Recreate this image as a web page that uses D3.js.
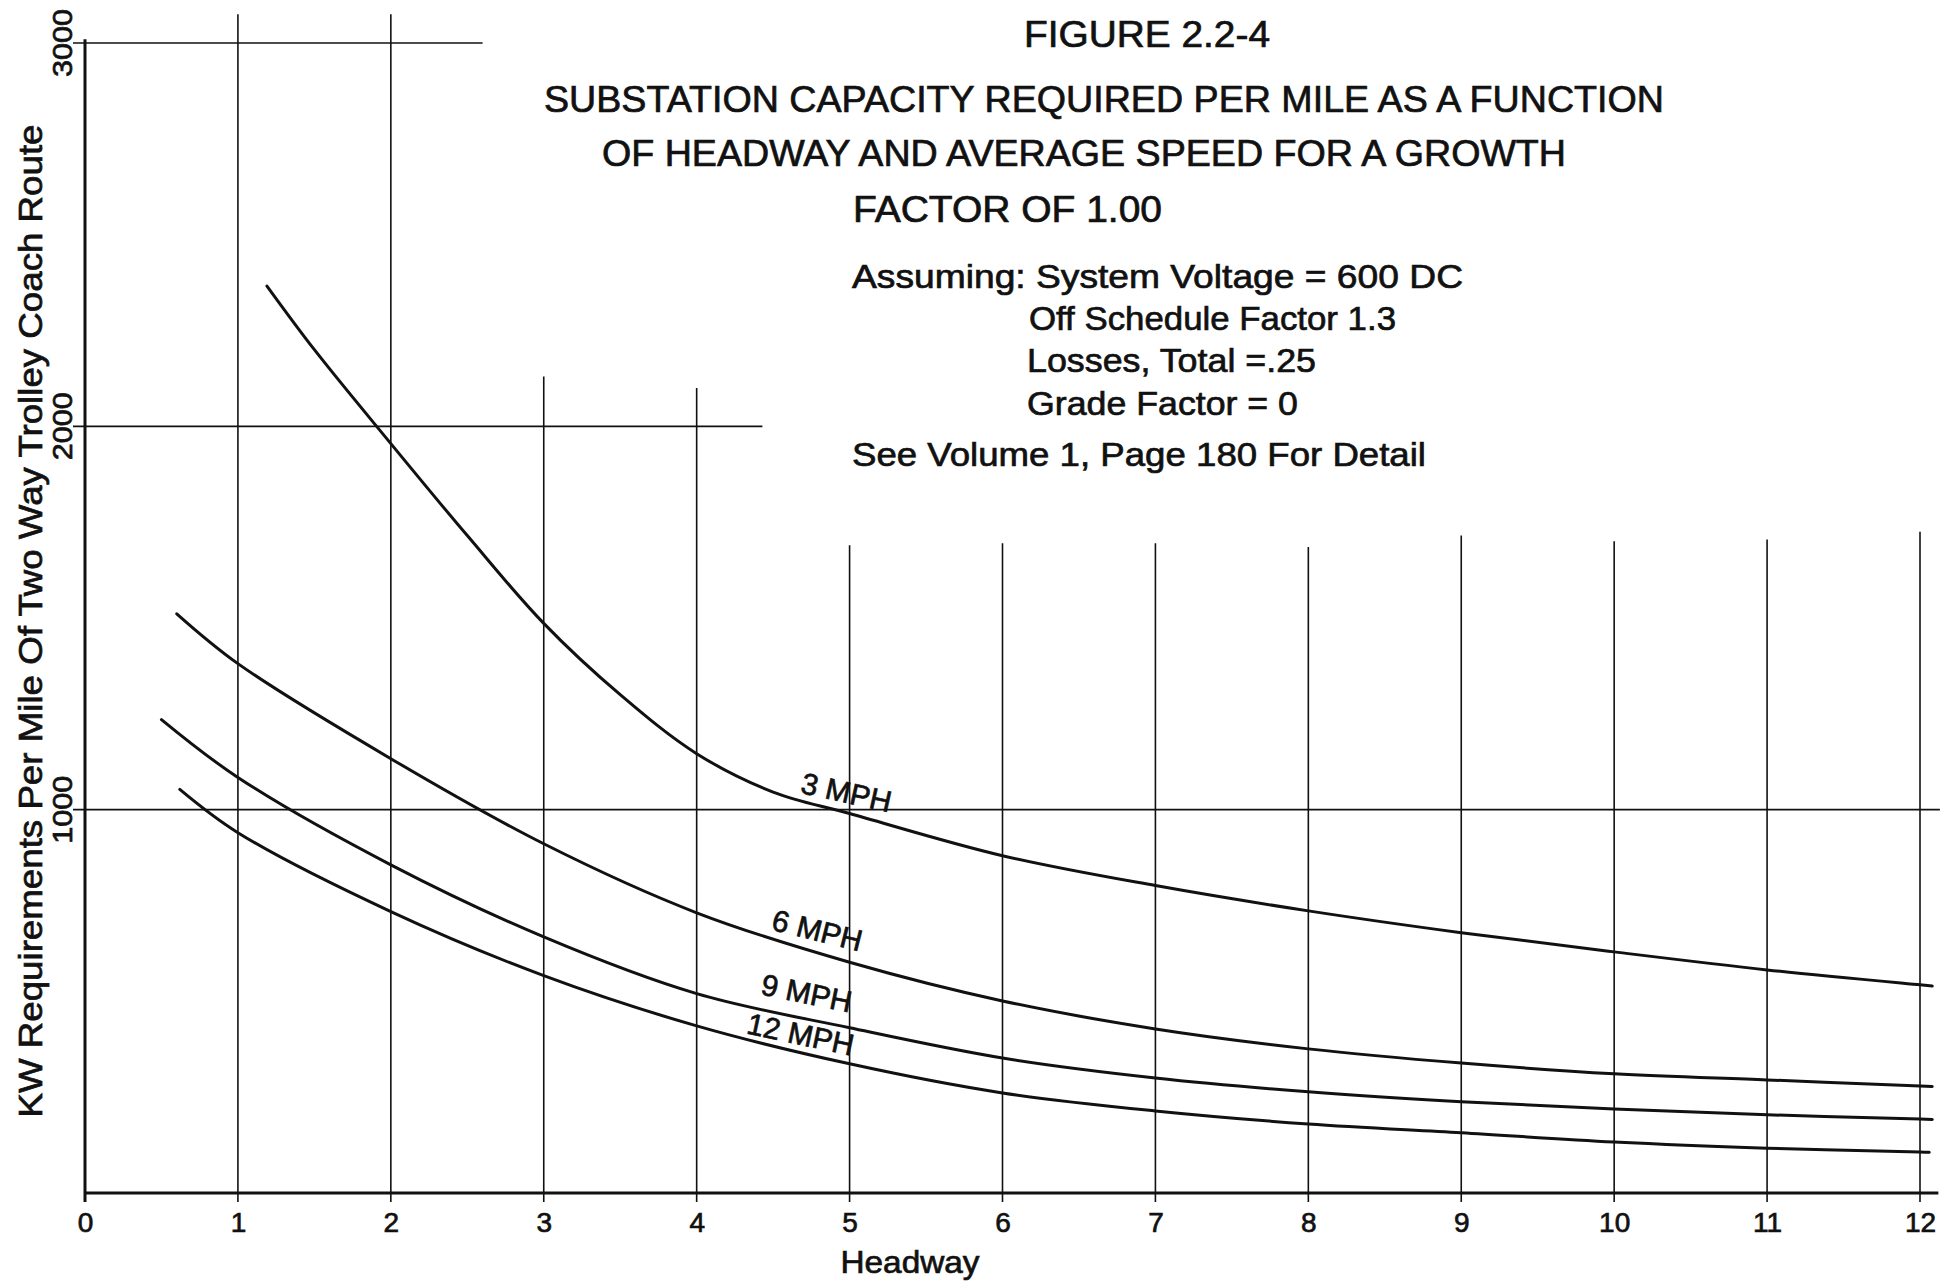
<!DOCTYPE html>
<html><head><meta charset="utf-8">
<script src="https://cdn.jsdelivr.net/npm/d3@7"></script>
<style>
body{margin:0;background:#fff}
svg{display:block;background:#fff}
text{font-family:"Liberation Sans",Arial,sans-serif;fill:#111;stroke:#111;stroke-width:0.7px}
</style>
</head><body>
<svg id="chart" width="1953" height="1284"></svg>
<script>
// ---------------- DATA ----------------
const xTicks = [0,1,2,3,4,5,6,7,8,9,10,11,12];
const xTickLabels = ["0","1","2","3","4","5","6","7","8","9","10","11","12"];
const yTicks = [1000,2000,3000];
const yTickLabels = ["1000","2000","3000"];

// how far up (KW) each hand-drawn vertical grid line reaches
const gridTop = [3010,3075,3075,2130,2100,1690,1695,1695,1685,1715,1700,1705,1725];
// how far right (headway) each horizontal rule reaches
const hRuleValues = [1000,2000,3000];
const hRuleEnd = [12.13,4.43,2.6];

const speeds = ["3 MPH","6 MPH","9 MPH","12 MPH"];

const headway3 = [1.19,1.5,2,2.5,3,3.5,4,4.5,5,6,7,8,9,10,11,12,12.08];
const kw3      = [2366,2200,1955,1715,1486,1300,1146,1046,990,880,802,736,679,629,582,543,540];

const headway6 = [0.6,1,2,3,4,5,6,7,8,9,10,11,12,12.08];
const kw6      = [1511,1381,1133,911,731,602,501,428,376,339,311,295,279,278];

const headway9 = [0.5,1,2,3,4,5,6,7,8,9,10,11,12,12.08];
const kw9      = [1235,1084,856,668,520,431,352,300,264,238,219,204,193,192];

const headway12 = [0.62,1,2,3,4,5,6,7,8,9,10,11,12,12.06];
const kw12      = [1053,940,734,567,436,337,261,214,180,157,133,117,107,106];

// curve label anchors (data units) and slant
const labelHeadway = [4.98,4.79,4.72,4.68];
const labelKW      = [1046,686,522,415];
const labelAngle   = [12.5,14,11.5,12];

const titleLines = [
  "FIGURE 2.2-4",
  "SUBSTATION CAPACITY REQUIRED PER MILE AS A FUNCTION",
  "OF HEADWAY AND AVERAGE SPEED FOR A GROWTH",
  "FACTOR OF 1.00"
];
const noteLines = [
  "Assuming: System Voltage = 600 DC",
  "Off Schedule Factor 1.3",
  "Losses, Total =.25",
  "Grade Factor = 0",
  "See Volume 1, Page 180 For Detail"
];
const xTitle = "Headway";
const yTitle = "KW Requirements Per Mile Of Two Way Trolley Coach Route";

// ---------------- DRAWING ----------------
const svg = d3.select("#chart");
const ink = "#111";
const x = d3.scaleLinear().domain([0,12]).range([85,1920]);
const y = d3.scaleLinear().domain([0,3000]).range([1193,43]);

const g = svg.append("g");

// vertical grid lines
g.selectAll("line.vg").data(xTicks.slice(1)).join("line")
  .attr("x1", d => x(d)).attr("x2", d => x(d))
  .attr("y1", y(0) + 9).attr("y2", d => y(gridTop[d]))
  .attr("stroke", ink).attr("stroke-width", 1.6);

// horizontal rules (with left tick stub)
g.selectAll("line.hg").data(hRuleValues).join("line")
  .attr("x1", x(0) - 12).attr("x2", (d,i) => x(hRuleEnd[i]))
  .attr("y1", d => y(d)).attr("y2", d => y(d))
  .attr("stroke", ink).attr("stroke-width", 1.6);

// axes lines
g.append("line").attr("x1", x(0)).attr("x2", x(12.12))
  .attr("y1", y(0)).attr("y2", y(0)).attr("stroke", ink).attr("stroke-width", 3);
g.append("line").attr("x1", x(0)).attr("x2", x(0))
  .attr("y1", y(0) + 9).attr("y2", y(gridTop[0])).attr("stroke", ink).attr("stroke-width", 3);

// x axis ticks & labels via d3 axis
const xAxis = d3.axisBottom(x).tickValues(xTicks)
  .tickFormat(d => xTickLabels[xTicks.indexOf(d)])
  .tickSize(0).tickPadding(19);
const xa = g.append("g").attr("transform", `translate(0,${y(0)})`).call(xAxis);
xa.select(".domain").remove();
xa.selectAll("text").attr("font-size", 28).attr("fill", ink)
  .style("font-family", '"Liberation Sans",Arial,sans-serif');

// y tick labels (rotated)
g.selectAll("text.yt").data(yTicks).join("text")
  .attr("transform", d => `translate(72,${y(d)}) rotate(-90)`)
  .attr("text-anchor", "middle")
  .attr("font-size", 27)
  .attr("textLength", 68).attr("lengthAdjust", "spacingAndGlyphs")
  .text((d,i) => yTickLabels[i]);

// curves
const series = [
  {hx: headway3, kw: kw3},
  {hx: headway6, kw: kw6},
  {hx: headway9, kw: kw9},
  {hx: headway12, kw: kw12}
];
const line = d3.line().x(d => x(d[0])).y(d => y(d[1])).curve(d3.curveCatmullRom.alpha(0.5));
g.selectAll("path.curve").data(series).join("path")
  .attr("d", s => line(s.hx.map((h,i) => [h, s.kw[i]])))
  .attr("fill", "none").attr("stroke", ink).attr("stroke-width", 3)
  .attr("stroke-linecap", "round");

// curve labels
g.selectAll("text.cl").data(speeds).join("text")
  .attr("transform", (d,i) => `translate(${x(labelHeadway[i])},${y(labelKW[i])}) rotate(${labelAngle[i]})`)
  .attr("text-anchor", "middle").attr("dy", "0.36em")
  .attr("font-size", 30)
  .text(d => d);

// title block
const titleX = [1024, 544, 602, 853];
const titleBase = [47, 112, 166, 222];
const titleLen = [246, 1120, 964, 309];
svg.selectAll("text.title").data(titleLines).join("text")
  .attr("x", (d,i) => titleX[i]).attr("y", (d,i) => titleBase[i])
  .attr("font-size", 37)
  .attr("textLength", (d,i) => titleLen[i]).attr("lengthAdjust", "spacingAndGlyphs")
  .text(d => d);

const noteX = [852, 1029, 1027, 1027, 852];
const noteBase = [288, 330, 372, 415, 466];
const noteLen = [611, 367, 289, 271, 574];
svg.selectAll("text.note").data(noteLines).join("text")
  .attr("x", (d,i) => noteX[i]).attr("y", (d,i) => noteBase[i])
  .attr("font-size", 34)
  .attr("textLength", (d,i) => noteLen[i]).attr("lengthAdjust", "spacingAndGlyphs")
  .text(d => d);

// axis titles
svg.append("text").attr("x", 910).attr("y", 1273)
  .attr("text-anchor", "middle").attr("font-size", 32)
  .attr("textLength", 139).attr("lengthAdjust", "spacingAndGlyphs")
  .text(xTitle);
svg.append("text").attr("transform", "translate(42,621) rotate(-90)")
  .attr("text-anchor", "middle").attr("font-size", 33)
  .attr("textLength", 993).attr("lengthAdjust", "spacingAndGlyphs")
  .text(yTitle);
</script>
</body></html>
